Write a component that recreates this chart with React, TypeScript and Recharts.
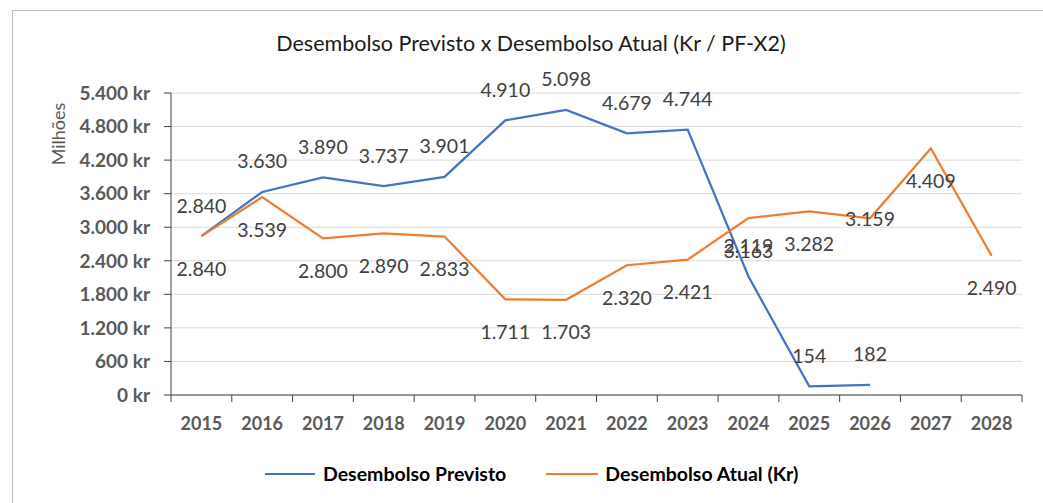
import React from "react"
import { LineChart, Line, XAxis, YAxis, CartesianGrid } from "recharts"

const years = [2015, 2016, 2017, 2018, 2019, 2020, 2021, 2022, 2023, 2024, 2025, 2026, 2027, 2028]
const previsto = [2840, 3630, 3890, 3737, 3901, 4910, 5098, 4679, 4744, 2119, 154, 182, null, null]
const atual = [2840, 3539, 2800, 2890, 2833, 1711, 1703, 2320, 2421, 3163, 3282, 3159, 4409, 2490]
const yTicks = [0, 600, 1200, 1800, 2400, 3000, 3600, 4200, 4800, 5400]

const BLUE = "#4472C4"
const ORANGE = "#ED7D31"
const AXIS = "#404040"
const FONT = "Lato, 'Open Sans', sans-serif"

const W = 1043
const H = 503
const M = { top: 93, right: 21, bottom: 68, left: 0 }
const Y_AXIS_W = 171
const STEP = (W - M.right - Y_AXIS_W) / years.length

const data = years.map((year, i) => ({ year, previsto: previsto[i], atual: atual[i] }))

function fmt(v: number) {
  return String(v).replace(/\B(?=(\d{3})+(?!\d))/g, ".")
}

function makeLabel(dy: (index: number) => number) {
  return (p: any) => {
    if (p.value == null) return null
    return (
      <text
        x={p.x}
        y={p.y + dy(p.index)}
        textAnchor="middle"
        dominantBaseline="central"
        fontSize={19.5}
        fontFamily={FONT}
        fill="#404040"
      >
        {fmt(p.value)}
      </text>
    )
  }
}

// year label in the middle of the category, tick marks on the category borders (Excel style)
function YearTick(p: any) {
  const last = p.payload.value === years[years.length - 1]
  return (
    <g>
      <line x1={p.x - STEP / 2} x2={p.x - STEP / 2} y1={p.y} y2={p.y + 7} stroke={AXIS} />
      {last && <line x1={p.x + STEP / 2} x2={p.x + STEP / 2} y1={p.y} y2={p.y + 7} stroke={AXIS} />}
      <text x={p.x} y={p.y + 28} textAnchor="middle" dominantBaseline="central" fontSize={18} fontWeight={700} fill="#595959" fontFamily={FONT}>
        {p.payload.value}
      </text>
    </g>
  )
}

export default function App() {
  return (
    <div style={{ position: "absolute", left: 0, top: 0, width: W, height: H, overflow: "hidden", background: "#fff", fontFamily: FONT }}>
      <div style={{ position: "absolute", left: 12, top: 10, width: 1100, height: 600, border: "1px solid #bcbcbc" }} />
      <div style={{ position: "absolute", left: 0, width: 1062, top: 30, textAlign: "center", fontSize: 21.5, color: "#1a1a1a" }}>
        Desembolso Previsto x Desembolso Atual (Kr / PF-X2)
      </div>
      <div style={{ position: "absolute", left: 58, top: 134, transform: "translate(-50%, -50%) rotate(-90deg)", fontSize: 18, color: "#595959", whiteSpace: "nowrap" }}>
        Milhões
      </div>
      <div style={{ position: "absolute", left: 0, top: 0 }}>
        <LineChart width={W} height={H} data={data} margin={M}>
          <CartesianGrid vertical={false} stroke="#d9d9d9" />
          <XAxis
            type="number"
            dataKey="year"
            domain={[2014.5, 2028.5]}
            allowDataOverflow
            ticks={years}
            interval={0}
            axisLine={{ stroke: AXIS }}
            tickLine={false}
            tickSize={0}
            tickMargin={0}
            height={40}
            tick={<YearTick />}
          />
          <YAxis
            width={Y_AXIS_W}
            domain={[0, 5400]}
            ticks={yTicks}
            interval={0}
            tickSize={7}
            tickMargin={14}
            axisLine={{ stroke: AXIS }}
            tickLine={{ stroke: AXIS }}
            tickFormatter={(v: number) => fmt(v) + " kr"}
            tick={{ fontSize: 19, fontWeight: 700, fill: "#595959", fontFamily: FONT }}
          />
          <Line
            dataKey="previsto"
            stroke={BLUE}
            strokeWidth={2.25}
            dot={false}
            isAnimationActive={false}
            label={makeLabel(() => -31)}
          />
          <Line
            dataKey="atual"
            stroke={ORANGE}
            strokeWidth={2.25}
            dot={false}
            isAnimationActive={false}
            label={makeLabel((i) => (years[i] === 2026 ? 0 : 32))}
          />
        </LineChart>
      </div>
      <div style={{ position: "absolute", top: 462, left: 265, display: "flex", alignItems: "center", fontSize: 19.5, fontWeight: 700, color: "#000", whiteSpace: "nowrap" }}>
        <span style={{ display: "inline-block", width: 50, height: 2, background: BLUE, marginRight: 8 }} />
        <span>Desembolso Previsto</span>
        <span style={{ display: "inline-block", width: 52, height: 2, background: ORANGE, marginLeft: 40, marginRight: 7 }} />
        <span>Desembolso Atual (Kr)</span>
      </div>
    </div>
  )
}
